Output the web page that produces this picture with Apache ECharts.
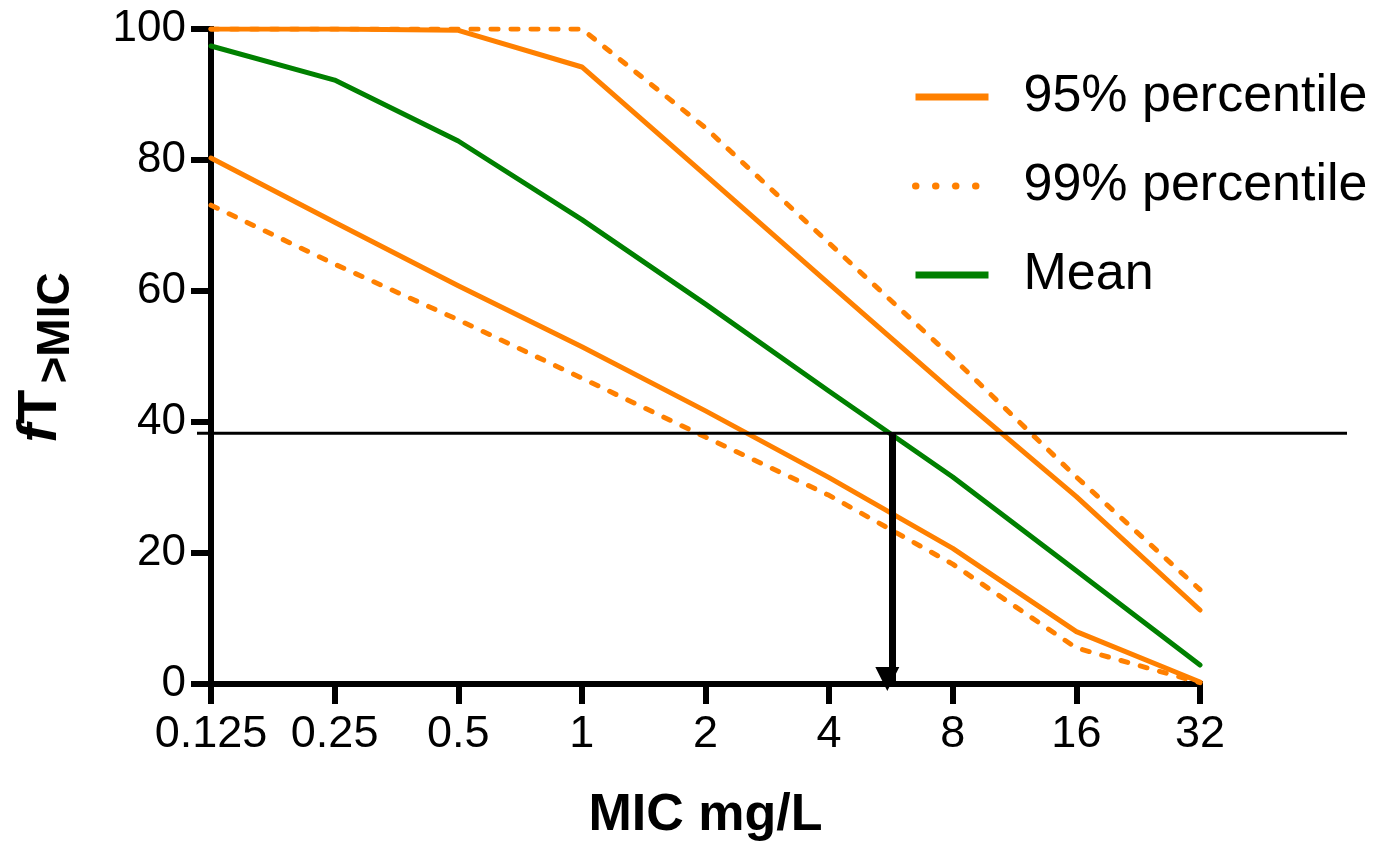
<!DOCTYPE html>
<html>
<head>
<meta charset="utf-8">
<title>fT>MIC vs MIC</title>
<script src="https://cdn.jsdelivr.net/npm/echarts@6/dist/echarts.min.js"></script>
<style>
  html, body { margin: 0; padding: 0; background: #ffffff; }
  #chart { width: 1391px; height: 847px; }
</style>
</head>
<body>
<div id="chart"></div>
<script>
// MIC dilution steps (mg/L), plotted on a log2 axis
const micValues = [0.125, 0.25, 0.5, 1, 2, 4, 8, 16, 32];

// fT>MIC (%) at each MIC
const upper95 = [100, 100, 99.8, 94.2, 77.7, 61.1, 44.6, 28.6, 11.3];
const upper99 = [100, 100, 100, 100, 84.9, 67.3, 49.8, 31.6, 14.4];
const meanFT  = [97.4, 92.2, 82.9, 70.9, 58.0, 44.7, 31.6, 17.3, 2.9];
const lower95 = [80.3, 70.5, 60.8, 51.5, 41.7, 31.5, 20.7, 8.0, 0.3];
const lower99 = [73.1, 64.1, 55.6, 46.7, 37.7, 28.8, 18.3, 5.5, 0.2];

// Target exposure and the MIC at which the mean reaches it
const targetFT = 38.3;
const breakpointMic = 5.7;

const yTicks = [0, 20, 40, 60, 80, 100];

const ORANGE = '#ff8000';
const GREEN = '#008000';
const FONT = '"Liberation Sans", Arial, Helvetica, sans-serif';

const pairs = (vals) => micValues.map((m, i) => [m, vals[i]]);

const solid = { color: ORANGE, width: 5, type: 'solid', cap: 'round', join: 'round' };
const dashed = { color: ORANGE, width: 5, type: [7, 13], cap: 'round', join: 'round' };

function lineSeries(name, vals, style, z) {
  return {
    name: name,
    type: 'line',
    data: pairs(vals),
    symbol: 'none',
    showSymbol: false,
    lineStyle: style,
    itemStyle: { color: style.color },
    silent: true,
    z: z
  };
}

const chart = echarts.init(document.getElementById('chart'), null, { renderer: 'canvas' });

// Mean curve carries the downward arrow from the target line to the MIC axis
const meanSeries = lineSeries('Mean', meanFT, { color: GREEN, width: 5, type: 'solid', cap: 'round', join: 'round' }, 4);
meanSeries.markLine = {
  silent: true,
  animation: false,
  symbol: ['none', 'triangle'],
  symbolSize: [24, 24],
  symbolOffset: [0, 5],
  label: { show: false },
  lineStyle: { color: '#000', width: 7, type: 'solid' },
  data: [[
    { coord: [breakpointMic, targetFT] },
    { coord: [breakpointMic, 0] }
  ]]
};

chart.setOption({
  animation: false,
  backgroundColor: '#ffffff',
  grid: { left: 211, right: 191, top: 29, bottom: 163, containLabel: false },
  legend: {
    orient: 'vertical',
    left: 912,
    top: 71,
    padding: 0,
    itemWidth: 73,
    itemHeight: 1,
    itemGap: 37,
    selectedMode: false,
    textStyle: { fontFamily: FONT, fontSize: 52, color: '#000', padding: [0, 0, 0, 30] },
    data: [
      { name: '95% percentile', lineStyle: { color: ORANGE, width: 7, type: 'solid', cap: 'butt' } },
      { name: '99% percentile', lineStyle: { color: ORANGE, width: 7, type: [0.5, 19.5], cap: 'round' } },
      { name: 'Mean', lineStyle: { color: GREEN, width: 7, type: 'solid', cap: 'butt' } }
    ]
  },
  xAxis: {
    type: 'log',
    logBase: 2,
    min: micValues[0],
    max: micValues[micValues.length - 1],
    splitNumber: 8,
    name: 'MIC mg/L',
    nameLocation: 'middle',
    nameGap: 106,
    nameTextStyle: { fontFamily: FONT, fontSize: 52, fontWeight: 'bold', color: '#000' },
    axisLine: { show: true, lineStyle: { color: '#000', width: 6, cap: 'square' } },
    axisTick: { show: true, inside: false, length: 20, lineStyle: { color: '#000', width: 6 } },
    axisLabel: {
      margin: 28,
      fontFamily: FONT,
      fontSize: 45,
      color: '#000',
      formatter: (v) => String(micValues.find((m) => Math.abs(m - v) < 1e-6) ?? v)
    },
    splitLine: { show: false },
    minorTick: { show: false },
    minorSplitLine: { show: false }
  },
  yAxis: {
    type: 'value',
    min: yTicks[0],
    max: yTicks[yTicks.length - 1],
    interval: 20,
    axisLine: { show: true, lineStyle: { color: '#000', width: 6, cap: 'square' } },
    axisTick: { show: true, inside: false, length: 20, lineStyle: { color: '#000', width: 6 } },
    axisLabel: { margin: 25, fontFamily: FONT, fontSize: 44, color: '#000' },
    splitLine: { show: false }
  },
  series: [
    lineSeries('95% percentile', upper95, solid, 3),
    lineSeries('99% percentile', upper99, dashed, 2),
    meanSeries,
    lineSeries('95% percentile', lower95, solid, 3),
    lineSeries('99% percentile', lower99, dashed, 2)
  ]
});

// Horizontal target line across the plot, placed through the y scale
const yTarget = chart.convertToPixel({ yAxisIndex: 0 }, targetFT);

// Vertical y-axis title: "fT" with a lowered ">MIC" subscript, reading upward
const yMid = (chart.convertToPixel({ yAxisIndex: 0 }, yTicks[0]) +
              chart.convertToPixel({ yAxisIndex: 0 }, yTicks[yTicks.length - 1])) / 2;

chart.setOption({
  graphic: [
    {
      type: 'line',
      silent: true,
      z: 100,
      shape: { x1: 197, y1: yTarget, x2: 1347, y2: yTarget },
      style: { stroke: '#000', lineWidth: 3 }
    },
    {
      type: 'group',
      x: 40.5,
      y: yMid + 86,
      rotation: Math.PI / 2,
      silent: true,
      children: [
        {
          type: 'text',
          x: 0,
          y: 0,
          style: {
            text: '{f|f}{t|T}',
            align: 'left',
            verticalAlign: 'middle',
            rich: {
              f: { fontFamily: FONT, fontSize: 56, fontWeight: 'bold', fontStyle: 'italic', fill: '#000' },
              t: { fontFamily: FONT, fontSize: 56, fontWeight: 'bold', fill: '#000' }
            }
          }
        },
        {
          type: 'text',
          x: 59,
          y: 15.5,
          style: {
            text: '>MIC',
            align: 'left',
            verticalAlign: 'middle',
            fontFamily: FONT,
            fontSize: 46,
            fontWeight: 'bold',
            fill: '#000'
          }
        }
      ]
    }
  ]
});
</script>
</body>
</html>
